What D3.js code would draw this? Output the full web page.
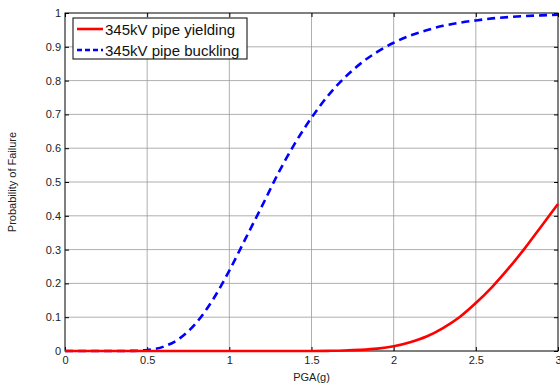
<!DOCTYPE html>
<html lang="en">
<head>
<meta charset="UTF-8">
<title>Probability of Failure</title>
<style>
    body { margin: 0; background: #fff; font-family: Arial, "Liberation Sans", sans-serif; }
    svg { display: block; }
    .grid line { stroke: #9a9a9a; stroke-width: 0.8; }
    .tick-label { font-size: 11px; fill: #222; }
</style>
</head>
<body>
<svg id="chart"></svg>
<script src="https://d3js.org/d3.v7.min.js"></script>
<script>
    // PGA values (g)
    const pga = [0, 0.1, 0.2, 0.3, 0.4, 0.5, 0.6, 0.7, 0.8, 0.9, 1.0, 1.1, 1.2, 1.3, 1.4, 1.5,
                 1.6, 1.7, 1.8, 1.9, 2.0, 2.1, 2.2, 2.3, 2.4, 2.5, 2.6, 2.7, 2.8, 2.9, 3.0];
    // 345kV pipe yielding
    const yielding = [0, 0, 0, 0, 0, 0, 0, 0, 0, 0, 0, 0, 0, 0, 0, 0.0001,
                      0.0005, 0.0013, 0.0033, 0.007, 0.014, 0.026, 0.043, 0.068, 0.10, 0.142, 0.19, 0.245, 0.305, 0.37, 0.435];
    // 345kV pipe buckling
    const buckling = [0, 0, 0, 0, 0.0003, 0.003, 0.013, 0.038, 0.084, 0.152, 0.238, 0.334, 0.43, 0.528, 0.615, 0.69,
                      0.755, 0.808, 0.851, 0.885, 0.912, 0.933, 0.949, 0.962, 0.971, 0.978, 0.984, 0.988, 0.991, 0.993, 0.995];
    const xTicks = [0, 0.5, 1, 1.5, 2, 2.5, 3];
    const yTicks = [0, 0.1, 0.2, 0.3, 0.4, 0.5, 0.6, 0.7, 0.8, 0.9, 1];
    const seriesNames = ["345kV pipe yielding", "345kV pipe buckling"];

    const width = 560, height = 387;
    const m = { left: 65, right: 558, top: 13, bottom: 351 };

    const svg = d3.select("#chart").attr("width", width).attr("height", height);

    const x = d3.scaleLinear().domain([0, 3]).range([m.left, m.right]);
    const y = d3.scaleLinear().domain([0, 1]).range([m.bottom, m.top]);

    // grid
    const grid = svg.append("g").attr("class", "grid");
    grid.selectAll(".vx").data(xTicks.slice(1, -1)).enter().append("line")
        .attr("x1", d => x(d)).attr("x2", d => x(d))
        .attr("y1", m.top).attr("y2", m.bottom);
    grid.selectAll(".hy").data(yTicks.slice(1, -1)).enter().append("line")
        .attr("x1", m.left).attr("x2", m.right)
        .attr("y1", d => y(d)).attr("y2", d => y(d));

    // axes (ticks inward, mirrored)
    const tickLen = 4;
    const cleanText = g => g.selectAll("text").attr("class", "tick-label")
        .attr("font-size", null).attr("font-family", null).attr("fill", null);
    svg.append("g").attr("transform", `translate(0,${m.bottom})`)
        .call(d3.axisBottom(x).tickValues(xTicks).tickSize(-tickLen).tickPadding(5).tickFormat(d3.format("")))
        .call(g => g.select(".domain").remove())
        .call(cleanText);
    svg.append("g").attr("transform", `translate(0,${m.top})`)
        .call(d3.axisTop(x).tickValues(xTicks).tickSize(-tickLen).tickFormat(""))
        .call(g => g.select(".domain").remove());
    svg.append("g").attr("transform", `translate(${m.left},0)`)
        .call(d3.axisLeft(y).tickValues(yTicks).tickSize(-tickLen).tickPadding(4).tickFormat(d3.format("")))
        .call(g => g.select(".domain").remove())
        .call(cleanText);
    svg.append("g").attr("transform", `translate(${m.right},0)`)
        .call(d3.axisRight(y).tickValues(yTicks).tickSize(-tickLen).tickFormat(""))
        .call(g => g.select(".domain").remove());

    // box
    svg.append("rect")
        .attr("x", m.left).attr("y", m.top)
        .attr("width", m.right - m.left).attr("height", m.bottom - m.top)
        .attr("fill", "none").attr("stroke", "#000").attr("stroke-width", 1);

    // lines
    const line = data => d3.line()
        .x((d, i) => x(pga[i]))
        .y(d => y(d))
        .curve(d3.curveMonotoneX)(data);

    svg.append("path").attr("d", line(buckling))
        .attr("fill", "none").attr("stroke", "#0000ff")
        .attr("stroke-width", 2.6).attr("stroke-dasharray", "8,5");
    svg.append("path").attr("d", line(yielding))
        .attr("fill", "none").attr("stroke", "#ff0000")
        .attr("stroke-width", 2.6);

    // axis labels
    svg.append("text")
        .attr("x", (m.left + m.right) / 2).attr("y", 381)
        .attr("text-anchor", "middle").attr("font-size", 11).attr("fill", "#222")
        .text("PGA(g)");
    svg.append("text")
        .attr("transform", `translate(16,${(m.top + m.bottom) / 2}) rotate(-90)`)
        .attr("text-anchor", "middle").attr("font-size", 11).attr("fill", "#222")
        .text("Probability of Failure");

    // legend
    const legend = svg.append("g");
    legend.append("rect")
        .attr("x", 73).attr("y", 18).attr("width", 174).attr("height", 41)
        .attr("fill", "#fff").attr("stroke", "#000").attr("stroke-width", 1);
    const legendStyles = [
        { color: "#ff0000", dash: null },
        { color: "#0000ff", dash: "5,3" }
    ];
    seriesNames.forEach((name, i) => {
        const ly = 29 + i * 21;
        legend.append("line")
            .attr("x1", 77).attr("x2", 103).attr("y1", ly).attr("y2", ly)
            .attr("stroke", legendStyles[i].color).attr("stroke-width", 2.6)
            .attr("stroke-dasharray", legendStyles[i].dash);
        legend.append("text")
            .attr("x", 105).attr("y", ly + 6)
            .attr("font-size", 15).attr("fill", "#111")
            .text(name);
    });
</script>
</body>
</html>
